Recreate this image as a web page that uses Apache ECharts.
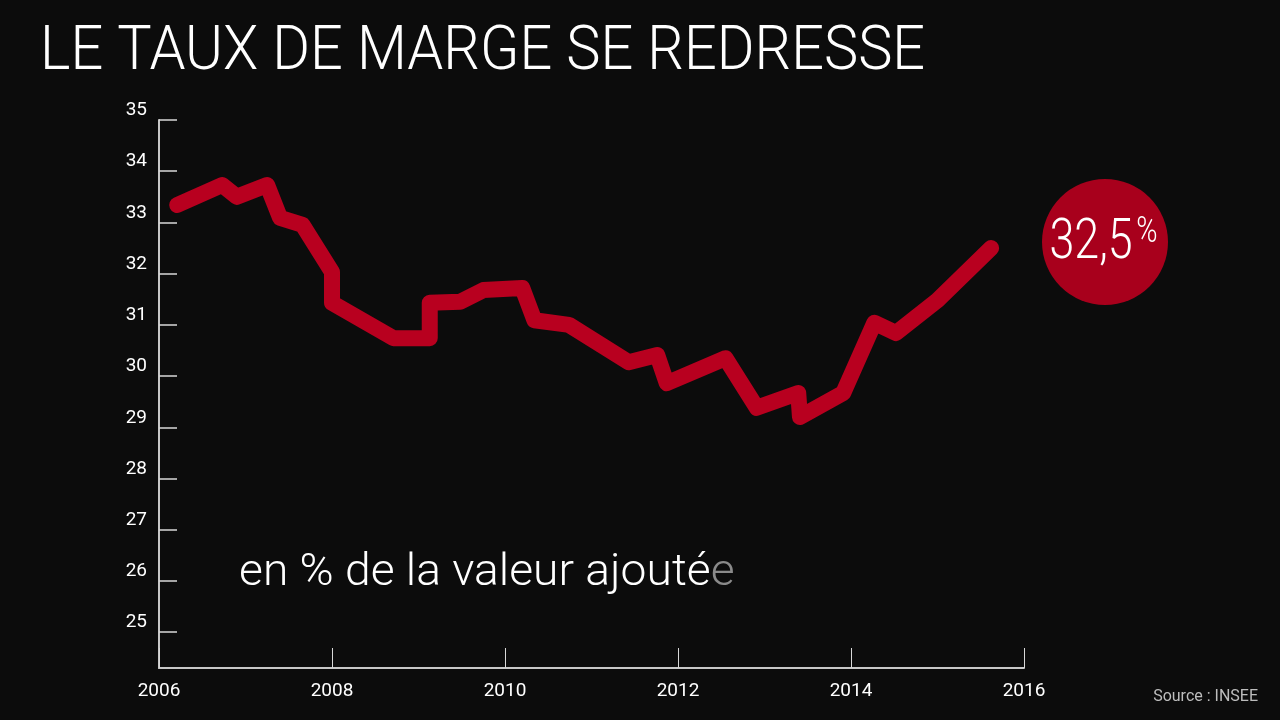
<!DOCTYPE html>
<html>
<head>
<meta charset="utf-8">
<script src="https://cdn.jsdelivr.net/npm/echarts@6/dist/echarts.min.js"></script>
<style>
html,body{margin:0;padding:0;background:#0c0c0c;}
#c{width:1280px;height:720px;}
</style>
</head>
<body>
<div id="c"></div>
<script>
// Data (taux de marge, en % de la valeur ajoutée)
var years = [2006.21, 2006.73, 2006.90, 2007.25, 2007.40, 2007.66, 2008.00, 2008.00, 2008.71, 2009.13, 2009.13, 2009.48, 2009.75, 2010.20, 2010.34, 2010.74, 2011.43, 2011.76, 2011.87, 2012.55, 2012.91, 2013.39, 2013.41, 2013.91, 2014.27, 2014.52, 2015.00, 2015.62];
var values = [33.34, 33.73, 33.50, 33.73, 33.09, 32.95, 32.03, 31.43, 30.74, 30.74, 31.43, 31.45, 31.68, 31.72, 31.09, 31.00, 30.27, 30.41, 29.86, 30.35, 29.38, 29.67, 29.20, 29.67, 31.04, 30.84, 31.48, 32.50];
var yTicks = [25, 26, 27, 28, 29, 30, 31, 32, 33, 34, 35];
var xTicks = [2006, 2008, 2010, 2012, 2014, 2016];
var titleText = 'LE TAUX DE MARGE SE REDRESSE';
var unitText = 'en % de la valeur ajouté';
var unitTextEnd = 'e';
var sourceText = 'Source : INSEE';

var lastValue = values[values.length - 1];
var lastLabel = lastValue.toFixed(1).replace('.', ',');

var light = "'Roboto','Noto Sans',sans-serif";

var chart = echarts.init(document.getElementById('c'));
var pts = years.map(function (y, i) { return [y, values[i]]; });

chart.setOption({
  backgroundColor: '#0c0c0c',
  animation: false,
  grid: { left: 159, right: 256, top: 120, bottom: 52, containLabel: false },
  xAxis: {
    type: 'value', min: 2006, max: 2016, interval: 2,
    axisLine: { show: true, lineStyle: { color: '#c8c8c8', width: 2 } },
    axisTick: { show: true, inside: true, length: 20, lineStyle: { color: '#d8d8d8', width: 1 } },
    axisLabel: { color: '#ffffff', fontSize: 19, fontFamily: light, margin: 14,
      customValues: xTicks, formatter: function (v) { return String(v); } },
    splitLine: { show: false }
  },
  yAxis: {
    type: 'value', min: 24.3, max: 35,
    axisLine: { show: true, lineStyle: { color: '#c8c8c8', width: 2 } },
    axisTick: { show: true, inside: true, length: 18, lineStyle: { color: '#d8d8d8', width: 1.5 }, customValues: yTicks },
    axisLabel: { color: '#ffffff', fontSize: 19, fontFamily: light, margin: 12, verticalAlign: 'bottom',
      customValues: yTicks, formatter: function (v) { return String(v); } },
    splitLine: { show: false }
  },
  series: [{
    type: 'line',
    data: pts,
    symbol: 'none',
    lineStyle: { color: '#b8001f', width: 16, cap: 'round', join: 'round' },
    z: 3
  }],
  graphic: [
    { type: 'text', x: 40, y: 22, scaleX: 0.93,
      style: { text: titleText, fill: '#ffffff', font: '300 62px ' + light } },
    { type: 'text', x: 239, y: 552, scaleX: 1.05,
      style: { rich: { a: { fill: '#ffffff', fontSize: 44, fontWeight: 300, fontFamily: light },
                       b: { fill: '#8a8a8a', fontSize: 44, fontWeight: 300, fontFamily: light } },
               text: '{a|' + unitText + '}{b|' + unitTextEnd + '}' } },
    { type: 'circle', shape: { cx: 1105, cy: 242, r: 63 }, style: { fill: '#a8001c' } },
    { type: 'text', x: 1091, y: 244, scaleX: 0.8,
      style: { text: lastLabel, fill: '#ffffff', font: '300 56px ' + light, align: 'center', verticalAlign: 'middle' } },
    { type: 'text', x: 1147, y: 233, scaleX: 0.8,
      style: { text: '%', fill: '#ffffff', font: '300 36px ' + light, align: 'center', verticalAlign: 'middle' } },
    { type: 'text', right: 22, top: 689,
      style: { text: sourceText, fill: '#bdbdbd', font: '16px ' + light } }
  ]
});
</script>
</body>
</html>
